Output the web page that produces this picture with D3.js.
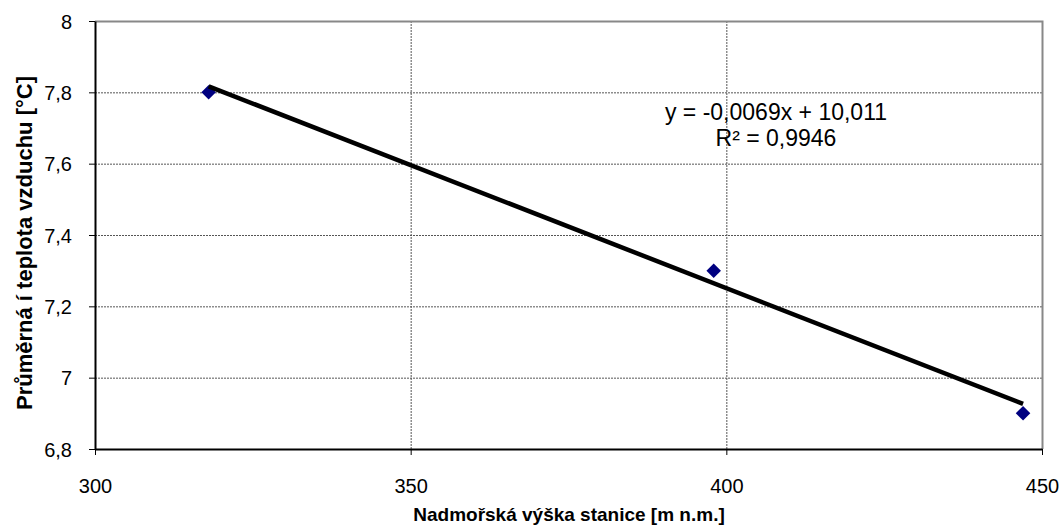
<!DOCTYPE html>
<html>
<head>
<meta charset="utf-8">
<script src="https://cdn.jsdelivr.net/npm/d3@7"></script>
<style>
  html, body { margin: 0; padding: 0; background: #fff; }
  svg { display: block; font-family: "Liberation Sans", Arial, sans-serif; }
</style>
</head>
<body>
<svg id="chart" width="1061" height="526"></svg>
<script>
// Station altitude [m n.m.] and mean annual air temperature [°C]
const altitudes = [318, 398, 447];
const temperatures = [7.8, 7.3, 6.9];
// Linear trend reported for the stations
const trendSlope = -0.0069;
const trendIntercept = 10.011;
const trendLabel = ["y = -0,0069x + 10,011", "R² = 0,9946"];
const xTicks = [300, 350, 400, 450];
const yTicks = [6.8, 7.0, 7.2, 7.4, 7.6, 7.8, 8.0];

const svg = d3.select("#chart");
const plot = { left: 95, right: 1042, top: 21, bottom: 449 };

const x = d3.scaleLinear().domain([300, 450]).range([plot.left, plot.right]);
const y = d3.scaleLinear().domain([6.8, 8.0]).range([plot.bottom, plot.top]);

const fmt = v => d3.format("~g")(v).replace(".", ",");

// gridlines
const grid = svg.append("g");
grid.selectAll("line.h").data(yTicks.slice(1)).join("line")
  .attr("x1", plot.left).attr("x2", plot.right)
  .attr("y1", d => y(d) + 0.5).attr("y2", d => y(d) + 0.5)
  .attr("stroke", "#555").attr("stroke-width", 1).attr("stroke-dasharray", "2,1");
grid.selectAll("line.v").data(xTicks.slice(1, -1)).join("line")
  .attr("y1", plot.top).attr("y2", plot.bottom)
  .attr("x1", d => x(d) + 0.5).attr("x2", d => x(d) + 0.5)
  .attr("stroke", "#555").attr("stroke-width", 1).attr("stroke-dasharray", "2,1");

// top and right frame
svg.append("path")
  .attr("d", `M${plot.left},${plot.top + 0.5}H${plot.right + 0.5}V${plot.bottom}`)
  .attr("fill", "none").attr("stroke", "#888").attr("stroke-width", 2);

// axes
const xAxis = svg.append("g")
  .attr("transform", `translate(0,${plot.bottom})`)
  .call(d3.axisBottom(x).tickValues(xTicks).tickFormat(fmt).tickSizeInner(6).tickSizeOuter(0).tickPadding(24));
const yAxis = svg.append("g")
  .attr("transform", `translate(${plot.left},0)`)
  .call(d3.axisLeft(y).tickValues(yTicks).tickFormat(fmt).tickSizeInner(6).tickSizeOuter(0).tickPadding(17));

[xAxis, yAxis].forEach(a => {
  a.select(".domain").attr("stroke", "#000").attr("stroke-width", 2);
  a.selectAll(".tick line").attr("stroke", "#000").attr("stroke-width", 1);
  a.selectAll(".tick text").attr("fill", "#000").attr("font-size", 20)
    .attr("font-family", "'Liberation Sans', Arial, sans-serif");
});
yAxis.selectAll(".tick text").attr("dy", "0.35em");
xAxis.selectAll(".tick text").attr("dy", "0.71em");

// data markers
svg.append("g").selectAll("path").data(altitudes).join("path")
  .attr("transform", (d, i) => `translate(${x(d)},${y(temperatures[i])})`)
  .attr("d", d3.symbol().type(d3.symbolDiamond2).size(135))
  .attr("fill", "#000080");

// trend line
const trendX = d3.extent(altitudes);
svg.append("line")
  .attr("x1", x(trendX[0])).attr("y1", y(trendSlope * trendX[0] + trendIntercept))
  .attr("x2", x(trendX[1])).attr("y2", y(trendSlope * trendX[1] + trendIntercept))
  .attr("stroke", "#000").attr("stroke-width", 4.5);

// trend equation
svg.append("g").selectAll("text").data(trendLabel).join("text")
  .attr("x", 776).attr("y", (d, i) => 120 + i * 26)
  .attr("text-anchor", "middle").attr("font-size", 23).attr("fill", "#000")
  .text(d => d);

// axis titles
svg.append("text")
  .attr("x", 569).attr("y", 521)
  .attr("text-anchor", "middle").attr("font-size", 19).attr("font-weight", "bold")
  .text("Nadmořská výška stanice [m n.m.]");
svg.append("text")
  .attr("transform", `translate(32,243) rotate(-90)`)
  .attr("text-anchor", "middle").attr("font-size", 22).attr("font-weight", "bold")
  .text("Průměrná í teplota vzduchu [°C]");
</script>
</body>
</html>
